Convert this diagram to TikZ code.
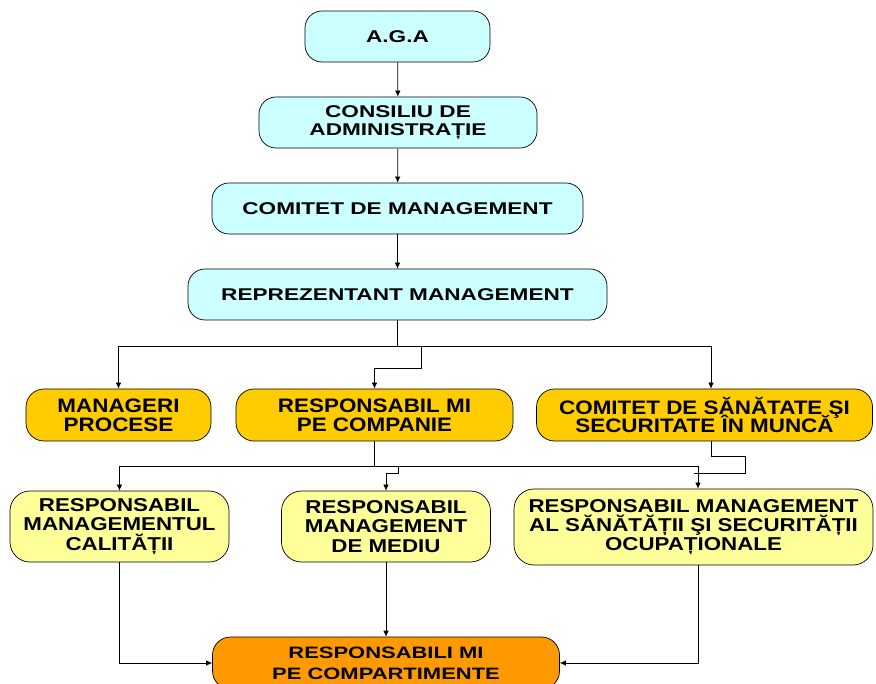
\documentclass[tikz,border=0pt]{standalone}
\usepackage{fontspec}
\usepackage{tikz}
\usetikzlibrary{arrows.meta,calc}
\newfontfamily\wideface[FakeStretch=1.33]{Liberation Sans}
\newfontfamily\midface[FakeStretch=1.15]{Liberation Sans}
\newfontfamily\lowface[FakeStretch=1.2]{Liberation Sans}
\definecolor{boardcyan}{HTML}{CCFFFF}
\definecolor{deptgold}{HTML}{FFCC00}
\definecolor{resplight}{HTML}{FFFF99}
\definecolor{comporange}{HTML}{FF9900}

\begin{document}
\begin{tikzpicture}[
  x=1pt, y=-1pt,
  >={Latex[length=6pt,width=5.5pt]},
  orgbox/.style={draw=black, line width=0.7pt, inner sep=0pt, align=center},
  topbox/.style={orgbox, fill=boardcyan, rounded corners=17pt, minimum height=51pt,
    font={\lineskiplimit=-50pt\wideface\bfseries\fontsize{17}{18.3}\selectfont}},
  deptbox/.style={orgbox, fill=deptgold, rounded corners=18pt, minimum height=52pt,
    font={\lineskiplimit=-50pt\midface\bfseries\fontsize{19.5}{18.7}\selectfont}},
  respbox/.style={orgbox, fill=resplight, rounded corners=20pt,
    font={\lineskiplimit=-50pt\lowface\bfseries\fontsize{18.6}{19.3}\selectfont}},
  compbox/.style={orgbox, fill=comporange, rounded corners=18pt, minimum height=52pt,
    font={\lineskiplimit=-50pt\wideface\bfseries\fontsize{16.5}{21}\selectfont}},
  link/.style={draw=black, line width=0.7pt}
]
  \useasboundingbox (0,0) rectangle (876,684);

  % conducere
  \node[topbox, minimum width=185pt] (aga) at (397.5,36.5) {A.G.A};
  \node[topbox, minimum width=278pt] (cda) at (398,122.5) {CONSILIU DE\\ADMINISTRAȚIE};
  \node[topbox, minimum width=371pt] (cm) at (397.5,208.5) {COMITET DE MANAGEMENT};
  \node[topbox, minimum width=419pt] (rm) at (397.5,294.5) {REPREZENTANT MANAGEMENT};

  % nivel 2
  \node[deptbox, minimum width=185pt] (mp) at (118.5,415) {MANAGERI\\PROCESE};
  \node[deptbox, minimum width=277pt] (rmc) at (374.5,415) {RESPONSABIL MI\\PE COMPANIE};
  \node[deptbox, minimum width=336pt] (cssm) at (704.5,415) {COMITET DE SĂNĂTATE ŞI\\SECURITATE ÎN MUNCĂ};

  % nivel 3
  \node[respbox, minimum width=219pt, minimum height=71pt] (rmq) at (119.5,526.5) {RESPONSABIL\\MANAGEMENTUL\\CALITĂȚII};
  \node[respbox, minimum width=209pt, minimum height=71pt] (rmm) at (386,526.5) {RESPONSABIL\\MANAGEMENT\\DE MEDIU};
  \node[respbox, minimum width=359pt, minimum height=76pt] (rmsso) at (693.5,527) {RESPONSABIL MANAGEMENT\\AL SĂNĂTĂȚII ŞI SECURITĂȚII\\OCUPAȚIONALE};

  \node[compbox, minimum width=347pt] (rmcomp) at (386,663) {RESPONSABILI MI\\PE COMPARTIMENTE};

  \coordinate (bus1) at (397.5,346);
  \coordinate (k1) at (421,368);
  \coordinate (bus2) at (374.5,466);
  \coordinate (k2) at (398,473);
  \coordinate (k3) at (745,456);

  \draw[link,->] (aga) -- (cda);
  \draw[link,->] (cda) -- (cm);
  \draw[link,->] (cm) -- (rm);

  \draw[link] (rm) -- (bus1);
  \draw[link,->] (bus1) -| (mp);
  \draw[link,->] (bus1) -| ([xshift=6.5pt]cssm.north);
  \draw[link,->] (bus1 -| k1) -- (k1) -| (rmc);

  \draw[link] (rmc) -- (bus2);
  \draw[link,->] (bus2) -| (rmq);
  \draw[link,->] (bus2) -| ([xshift=4.5pt]rmsso.north);
  \draw[link,->] (bus2 -| k2) -- (k2) -| (rmm);
  \draw[link] ([xshift=6.5pt]cssm.south) |- (k3) |- (k2 -| rmsso.north);

  \draw[link,->] (rmq) |- (rmcomp);
  \draw[link,->] (rmm) -- (rmcomp);
  \draw[link,->] ([xshift=4.5pt]rmsso.south) |- (rmcomp);
\end{tikzpicture}
\end{document}
